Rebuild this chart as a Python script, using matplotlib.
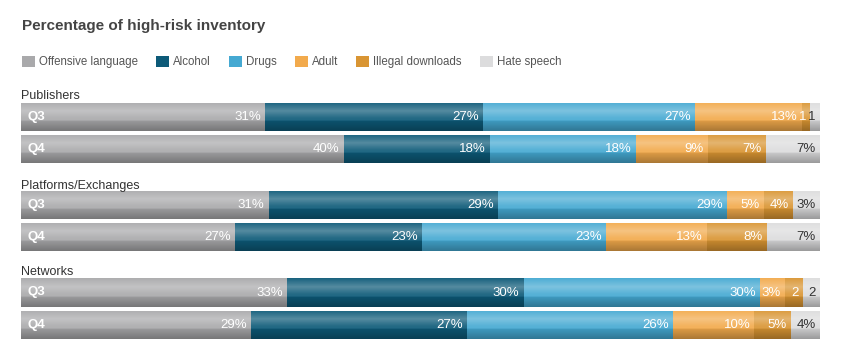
import numpy as np
import matplotlib
matplotlib.use("Agg")
import matplotlib.pyplot as plt
from matplotlib.patches import Patch

plt.rcParams['font.family'] = ['Liberation Sans', 'DejaVu Sans']

# data
categories = ["Offensive language", "Alcohol", "Drugs", "Adult", "Illegal downloads", "Hate speech"]
groups = ["Publishers", "Platforms/Exchanges", "Networks"]
quarters = ["Q3", "Q4"]

publishers_q3 = [30.6, 27.2, 26.6, 13.3, 1.1, 1.2]
publishers_q4 = [40.4, 18.3, 18.3, 9.0, 7.2, 6.8]
platforms_q3 = [31.0, 28.7, 28.7, 4.6, 3.6, 3.4]
platforms_q4 = [26.8, 23.4, 23.0, 12.6, 7.6, 6.6]
networks_q3 = [33.3, 29.6, 29.6, 3.1, 2.3, 2.1]
networks_q4 = [28.8, 27.0, 25.8, 10.2, 4.6, 3.6]

rows = [publishers_q3, publishers_q4, platforms_q3, platforms_q4, networks_q3, networks_q4]

# style
colors = ["#a9a9ab", "#0d5a78", "#45a9d2", "#f2aa4c", "#d99533", "#dcdcdd"]
label_colors = ["white", "white", "white", "white", "white", "#333333"]
W, H = 845, 360
row_y = [117, 149, 205, 237, 292.5, 325]   # pixel centres
bar_h = 28.5
group_y = [99, 189, 275]                    # label baselines

fig = plt.figure(figsize=(W / 100, H / 100), dpi=100)
ax = fig.add_axes([21 / W, 0, 799 / W, 1])

# vertical shading overlay (highlight near top, darker bottom)
t = np.linspace(0, 1, 64)
light = np.interp(t, [0, 0.3, 0.55, 1], [0.05, 0.3, 0.1, 0.0])
dark = np.interp(t, [0, 0.5, 1], [0.0, 0.0, 0.3])
grad = np.zeros((64, 1, 4))
grad[..., 0:3] = np.where((light > dark)[:, None], 1.0, 0.0)[:, None, :]
grad[..., 3] = np.maximum(light, dark)[:, None]

for vals, y, q in zip(rows, row_y, quarters * 3):
    left = 0
    for i, v in enumerate(vals):
        ax.barh(y, v, left=left, height=bar_h, color=colors[i], linewidth=0, zorder=2)
        txt = f"{round(v)}%" if v >= 2.5 else f"{round(v)}"
        ax.annotate(txt, xy=(left + v, y), xytext=(-3, 0), textcoords="offset points",
                    ha="right", va="center", fontsize=9.5, color=label_colors[i], zorder=5)
        left += v
    ax.imshow(grad, extent=[0, left, y + bar_h / 2, y - bar_h / 2], aspect="auto",
              interpolation="bilinear", zorder=3)
    ax.annotate(q, xy=(0, y), xytext=(5, 0), textcoords="offset points",
                ha="left", va="center", fontsize=9.5, fontweight="bold", color="white", zorder=5)

for g, gy in zip(groups, group_y):
    ax.text(0, gy, g, ha="left", va="baseline", fontsize=9, color="#333333")

ax.set_xlim(0, 100)
ax.set_ylim(H, 0)
ax.axis("off")

fig.text(22 / W, 1 - 30 / H, "Percentage of high-risk inventory", fontsize=11,
         fontweight="bold", color="#444444", ha="left", va="baseline")

handles = [Patch(facecolor=c, edgecolor="none") for c in colors]
fig.legend(handles, categories, loc="upper left", bbox_to_anchor=(17 / W, 1 - 51 / H),
           ncol=6, frameon=False, fontsize=8.3, handlelength=1.15, handleheight=1.15,
           handletextpad=0.35, columnspacing=1.55, labelcolor="#555555", borderaxespad=0)

plt.savefig("out.png", dpi=100)
plt.close()
